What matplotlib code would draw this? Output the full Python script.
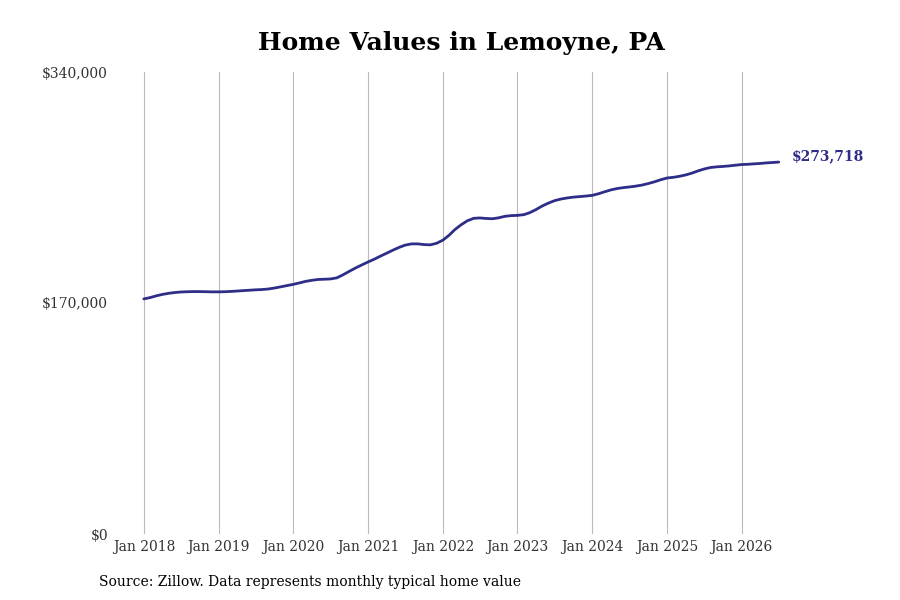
import datetime as dt
import matplotlib
matplotlib.use("Agg")
import matplotlib.pyplot as plt
import matplotlib.dates as mdates
from matplotlib.ticker import FuncFormatter

# monthly typical home value, Jan 2018 .. Jul 2026
VALUES = [
    173000, 174000, 175200, 176300, 177100, 177700, 178100, 178300, 178400, 178400, 178300, 178200,
    178200, 178300, 178500, 178800, 179100, 179400, 179700, 179900, 180300, 181000, 181900, 182800,
    183700, 184800, 185900, 186700, 187300, 187500, 187700, 188500, 190800, 193300, 195800, 198000,
    200200, 202300, 204400, 206600, 208800, 210900, 212600, 213500, 213500, 213000, 212800, 213900,
    216200, 219900, 224000, 227600, 230500, 232300, 232600, 232200, 232000, 232700, 233800, 234300,
    234500, 235000, 236400, 238700, 241300, 243500, 245300, 246500, 247300, 247900, 248300, 248700,
    249200, 250400, 251800, 253200, 254200, 254900, 255400, 256000, 256800, 257900, 259200, 260700,
    262000, 262500, 263200, 264200, 265500, 267200, 268600, 269700, 270200, 270500, 270900, 271400,
    271900, 272100, 272400, 272700, 273100, 273400, 273718,
]
DATES = [dt.date(2018 + i // 12, i % 12 + 1, 1) for i in range(len(VALUES))]
YEAR_TICKS = [dt.date(y, 1, 1) for y in range(2018, 2027)]
Y_TICKS = [0, 170000, 340000]

LINE_COLOR = "#2e2d88"
plt.rcParams["font.family"] = ["DejaVu Serif"]

fig = plt.figure(figsize=(9, 6), dpi=100)
ax = fig.add_axes([115 / 900, 66 / 600, (808 - 115) / 900, 462 / 600])

ax.plot(DATES, VALUES, color=LINE_COLOR, lw=2.0, solid_capstyle="round")

px_per_day = 74.7 / 365.25
start = dt.date(2018, 1, 1)
ax.set_xlim(start - dt.timedelta(days=(144 - 115) / px_per_day),
            start + dt.timedelta(days=(808 - 144) / px_per_day))
ax.set_ylim(0, 340000)

ax.set_xticks(YEAR_TICKS)
ax.xaxis.set_major_formatter(mdates.DateFormatter("Jan %Y"))
ax.set_yticks(Y_TICKS)
ax.yaxis.set_major_formatter(FuncFormatter(lambda v, p: "${:,.0f}".format(v)))
ax.tick_params(axis="both", length=0, labelsize=10, labelcolor="#333333")
ax.tick_params(axis="x", pad=4)
ax.tick_params(axis="y", pad=5)
for lab in ax.get_yticklabels():
    lab.set_verticalalignment("center_baseline")

ax.grid(axis="x", color="#bbbbbb", lw=0.8)
ax.grid(axis="y", visible=False)
for s in ax.spines.values():
    s.set_visible(False)

ax.annotate("${:,.0f}".format(VALUES[-1]), xy=(DATES[-1], VALUES[-1]),
            xytext=(9.5, 4), textcoords="offset points", color=LINE_COLOR,
            fontsize=10, fontweight="bold", va="center", ha="left")

fig.text(461 / 900, 1 - 43 / 600, "Home Values in Lemoyne, PA", ha="center", va="center",
         fontsize=18, fontweight="bold")
fig.text(99 / 900, 1 - 582 / 600, "Source: Zillow. Data represents monthly typical home value",
         ha="left", va="center", fontsize=10)

fig.savefig("out.png", dpi=100)
